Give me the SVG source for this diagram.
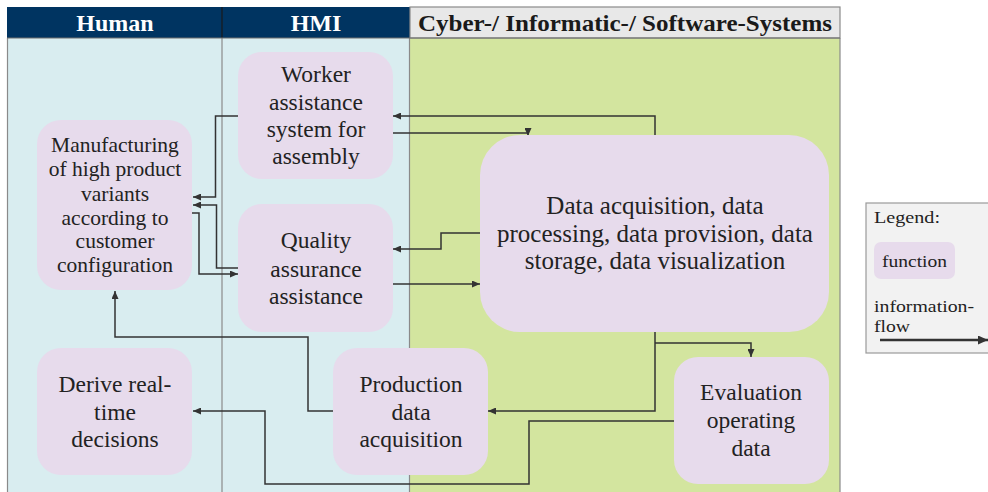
<svg xmlns="http://www.w3.org/2000/svg" width="988" height="492" viewBox="0 0 988 492">
  <style>
    .lane-h { fill: #d9edf0; }
    .lane-c { fill: #d3e59f; }
    .divider { stroke: #8a8a8a; stroke-width: 1.2; fill: none; }
    .hdr-dark { fill: #003461; }
    .hdr-light { fill: #e8e8e8; stroke: #8a8a8a; stroke-width: 1.2; }
    .hdr-text { font-family: "Liberation Serif", "Times New Roman", serif; font-weight: bold; font-size: 24px; text-anchor: middle; }
    .fn { fill: #e7dbec; }
    .lbl { font-family: "Liberation Serif", "Times New Roman", serif; fill: #222; text-anchor: middle; }
    .lbl-xl { font-size: 25px; }
    .lbl-l { font-size: 23.5px; }
    .lbl-s { font-size: 21.5px; }
    .flow { fill: none; stroke: #333; stroke-width: 1.5; marker-end: url(#arr); }
    .legend-box { fill: #f2f2f2; stroke: #9a9a9a; stroke-width: 1.2; }
    .legend-text { font-family: "Liberation Serif", "Times New Roman", serif; fill: #222; font-size: 17px; }
  </style>
  <defs>
    <marker id="arr" markerUnits="userSpaceOnUse" markerWidth="8" markerHeight="7" refX="8" refY="3.5" orient="auto">
      <path d="M0,0 L8,3.5 L0,7 z" fill="#333"/>
    </marker>
    <marker id="arr-big" markerUnits="userSpaceOnUse" markerWidth="10" markerHeight="9" refX="10" refY="4.5" orient="auto">
      <path d="M0,0 L10,4.5 L0,9 z" fill="#333"/>
    </marker>
  </defs>

  <rect width="988" height="492" fill="#ffffff"/>

  <!-- swimlanes -->
  <g id="lanes">
    <rect class="lane-h" x="7" y="38" width="403" height="454"/>
    <rect class="lane-c" x="410" y="38" width="430" height="454"/>
    <line class="divider" x1="7.5" y1="38" x2="7.5" y2="492"/>
    <line class="divider" x1="222" y1="38" x2="222" y2="492"/>
    <line class="divider" x1="409.5" y1="38" x2="409.5" y2="492"/>
    <line class="divider" x1="840" y1="38" x2="840" y2="492"/>
  </g>

  <!-- lane headers -->
  <g id="headers">
    <rect class="hdr-dark" x="7" y="7" width="403" height="31"/>
    <line x1="222" y1="7" x2="222" y2="38" stroke="#1a1a1a" stroke-width="1.2"/>
    <rect class="hdr-light" x="410" y="7" width="430" height="31"/>
    <line x1="7" y1="38" x2="840" y2="38" stroke="#6f6f6f" stroke-width="1.2"/>
    <text class="hdr-text" x="115" y="31" fill="#ffffff">Human</text>
    <text class="hdr-text" x="316" y="31" fill="#ffffff">HMI</text>
    <text class="hdr-text" x="625" y="31" fill="#1a1a1a" textLength="414" lengthAdjust="spacingAndGlyphs">Cyber-/ Informatic-/ Software-Systems</text>
  </g>

  <!-- connectors -->
  <g id="connectors">
    <path class="flow" d="M238,116 H215.5 V197 H193"/>
    <path class="flow" d="M238,268 H216.5 V205 H193"/>
    <path class="flow" d="M192,213 H199 V274 H238"/>
    <path class="flow" d="M655,135 V116 H393"/>
    <path class="flow" d="M393,133 H528 V136"/>
    <path class="flow" d="M480,233 H441 V249 H393"/>
    <path class="flow" d="M393,284 H480"/>
    <path class="flow" d="M333,411 H308 V337 H115 V291"/>
    <path class="flow" d="M655,332 V411 H488"/>
    <path class="flow" d="M655,343 H751 V357"/>
    <path class="flow" d="M674,421 H529 V484 H265 V411 H193"/>
  </g>

  <!-- function nodes -->
  <g id="manufacturing">
    <rect class="fn" x="37" y="120" width="155" height="170" rx="24"/>
    <text class="lbl lbl-s" x="115" y="152">Manufacturing</text>
    <text class="lbl lbl-s" x="115" y="176">of high product</text>
    <text class="lbl lbl-s" x="115" y="201">variants</text>
    <text class="lbl lbl-s" x="115" y="225">according to</text>
    <text class="lbl lbl-s" x="115" y="248">customer</text>
    <text class="lbl lbl-s" x="115" y="272">configuration</text>
  </g>

  <g id="worker-assistance">
    <rect class="fn" x="238" y="52" width="155" height="127" rx="24"/>
    <text class="lbl lbl-l" x="316" y="82">Worker</text>
    <text class="lbl lbl-l" x="316" y="110">assistance</text>
    <text class="lbl lbl-l" x="316" y="137">system for</text>
    <text class="lbl lbl-l" x="316" y="164">assembly</text>
  </g>

  <g id="quality-assurance">
    <rect class="fn" x="238" y="204" width="155" height="128" rx="24"/>
    <text class="lbl lbl-l" x="316" y="248">Quality</text>
    <text class="lbl lbl-l" x="316" y="277">assurance</text>
    <text class="lbl lbl-l" x="316" y="304">assistance</text>
  </g>

  <g id="data-processing">
    <rect class="fn" x="480" y="135" width="349" height="197" rx="40"/>
    <text class="lbl lbl-xl" x="655" y="214">Data acquisition, data</text>
    <text class="lbl lbl-xl" x="655" y="242">processing, data provision, data</text>
    <text class="lbl lbl-xl" x="655" y="269">storage, data visualization</text>
  </g>

  <g id="derive-decisions">
    <rect class="fn" x="37" y="348" width="155" height="127" rx="24"/>
    <text class="lbl lbl-l" x="115" y="392">Derive real-</text>
    <text class="lbl lbl-l" x="115" y="420">time</text>
    <text class="lbl lbl-l" x="115" y="447">decisions</text>
  </g>

  <g id="production-data">
    <rect class="fn" x="333" y="348" width="155" height="127" rx="24"/>
    <text class="lbl lbl-l" x="411" y="392">Production</text>
    <text class="lbl lbl-l" x="411" y="420">data</text>
    <text class="lbl lbl-l" x="411" y="447">acquisition</text>
  </g>

  <g id="evaluation">
    <rect class="fn" x="674" y="357" width="155" height="127" rx="24"/>
    <text class="lbl lbl-l" x="751" y="400">Evaluation</text>
    <text class="lbl lbl-l" x="751" y="428">operating</text>
    <text class="lbl lbl-l" x="751" y="456">data</text>
  </g>

  <!-- legend -->
  <g id="legend">
    <rect class="legend-box" x="866" y="203" width="130" height="150"/>
    <text class="legend-text" x="874" y="223" textLength="66" lengthAdjust="spacingAndGlyphs">Legend:</text>
    <rect class="fn" x="874" y="242" width="81" height="37" rx="7"/>
    <text class="legend-text" x="882" y="267" textLength="65" lengthAdjust="spacingAndGlyphs">function</text>
    <text class="legend-text" x="874" y="312" textLength="100" lengthAdjust="spacingAndGlyphs">information-</text>
    <text class="legend-text" x="874" y="332" textLength="36" lengthAdjust="spacingAndGlyphs">flow</text>
    <line x1="880" y1="340" x2="988" y2="340" stroke="#333" stroke-width="2.5" marker-end="url(#arr-big)"/>
  </g>
</svg>
